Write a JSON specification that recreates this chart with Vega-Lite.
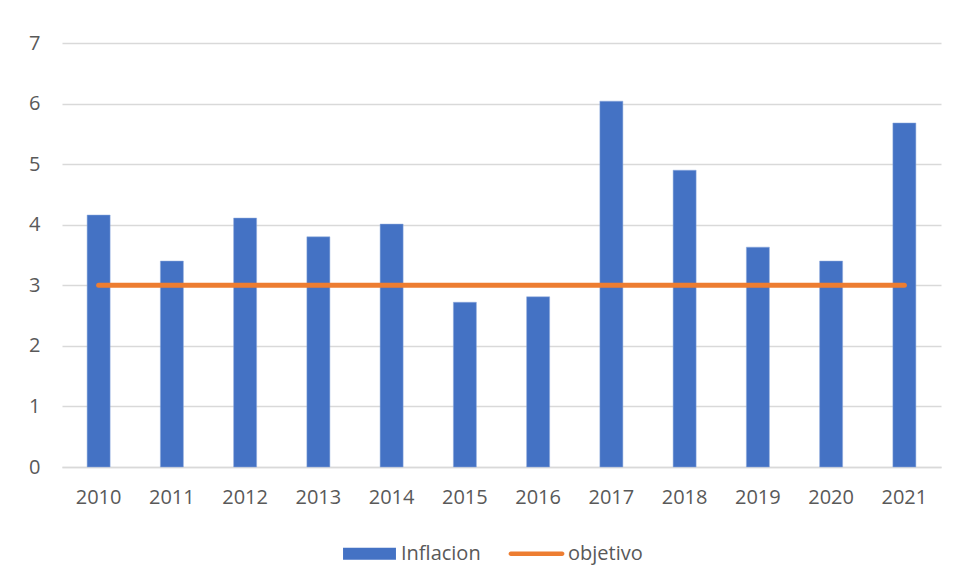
{
  "$schema": "https://vega.github.io/schema/vega-lite/v6.json",
  "width": 879,
  "height": 424,
  "autosize": "none",
  "padding": {"left": 62, "top": 43, "right": 15, "bottom": 116},
  "background": "white",
  "config": {
    "font": "Open Sans",
    "view": {"stroke": null},
    "axis": {"labelFont": "Open Sans", "labelColor": "#595959", "labelFontSize": 20, "title": null}
  },
  "data": {
    "values": [
      {"anio": "2010", "inflacion": 4.16, "objetivo": 3},
      {"anio": "2011", "inflacion": 3.40, "objetivo": 3},
      {"anio": "2012", "inflacion": 4.11, "objetivo": 3},
      {"anio": "2013", "inflacion": 3.80, "objetivo": 3},
      {"anio": "2014", "inflacion": 4.01, "objetivo": 3},
      {"anio": "2015", "inflacion": 2.72, "objetivo": 3},
      {"anio": "2016", "inflacion": 2.81, "objetivo": 3},
      {"anio": "2017", "inflacion": 6.04, "objetivo": 3},
      {"anio": "2018", "inflacion": 4.90, "objetivo": 3},
      {"anio": "2019", "inflacion": 3.63, "objetivo": 3},
      {"anio": "2020", "inflacion": 3.40, "objetivo": 3},
      {"anio": "2021", "inflacion": 5.68, "objetivo": 3}
    ]
  },
  "encoding": {
    "x": {
      "field": "anio",
      "type": "nominal",
      "sort": null,
      "scale": {"paddingInner": 0.686, "paddingOuter": 0.343},
      "axis": {
        "labelAngle": 0,
        "ticks": false,
        "domainColor": "#D9D9D9",
        "domainWidth": 1.5,
        "labelPadding": 20,
        "grid": false
      }
    }
  },
  "layer": [
    {
      "mark": {"type": "bar", "stroke": "#8FAADC", "strokeWidth": 0.5},
      "encoding": {
        "y": {
          "field": "inflacion",
          "type": "quantitative",
          "scale": {"domain": [0, 7], "nice": false},
          "axis": {
            "values": [0, 1, 2, 3, 4, 5, 6, 7],
            "format": "d",
            "domain": false,
            "ticks": false,
            "gridColor": "#D9D9D9",
            "gridWidth": 1.5,
            "labelPadding": 22
          }
        },
        "color": {
          "datum": "Inflacion",
          "type": "nominal",
          "scale": {"domain": ["Inflacion", "objetivo"], "range": ["#4472C4", "#ED7D31"]},
          "legend": {
            "orient": "none",
            "legendX": 281,
            "legendY": 484,
            "direction": "horizontal",
            "title": null,
            "labelFont": "Open Sans",
            "labelFontSize": 20,
            "labelColor": "#595959",
            "labelOffset": 5,
            "columnPadding": 27,
            "symbolSize": 2800,
            "symbolStrokeWidth": 0,
            "encode": {
              "symbols": {
                "update": {
                  "shape": {"signal": "datum.value === 'Inflacion' ? 'M-1,-0.23H1V0.23H-1Z' : 'M-0.97,-0.085H0.97A0.085,0.085,0,0,1,0.97,0.085H-0.97A0.085,0.085,0,0,1,-0.97,-0.085Z'"},
                  "fill": {"signal": "datum.value === 'Inflacion' ? '#4472C4' : '#ED7D31'"},
                  "stroke": {"value": "transparent"},
                  "opacity": {"value": 1}
                }
              }
            }
          }
        }
      }
    },
    {
      "mark": {"type": "line", "strokeWidth": 5, "strokeCap": "round"},
      "encoding": {
        "y": {"field": "objetivo", "type": "quantitative"},
        "color": {
          "datum": "objetivo",
          "type": "nominal",
          "legend": {
            "orient": "none",
            "legendX": 281,
            "legendY": 484,
            "direction": "horizontal",
            "title": null,
            "labelFont": "Open Sans",
            "labelFontSize": 20,
            "labelColor": "#595959",
            "labelOffset": 5,
            "columnPadding": 27,
            "symbolSize": 2800,
            "symbolStrokeWidth": 0,
            "encode": {
              "symbols": {
                "update": {
                  "shape": {"signal": "datum.value === 'Inflacion' ? 'M-1,-0.23H1V0.23H-1Z' : 'M-0.97,-0.085H0.97A0.085,0.085,0,0,1,0.97,0.085H-0.97A0.085,0.085,0,0,1,-0.97,-0.085Z'"},
                  "fill": {"signal": "datum.value === 'Inflacion' ? '#4472C4' : '#ED7D31'"},
                  "stroke": {"value": "transparent"},
                  "opacity": {"value": 1}
                }
              }
            }
          }
        }
      }
    }
  ]
}
